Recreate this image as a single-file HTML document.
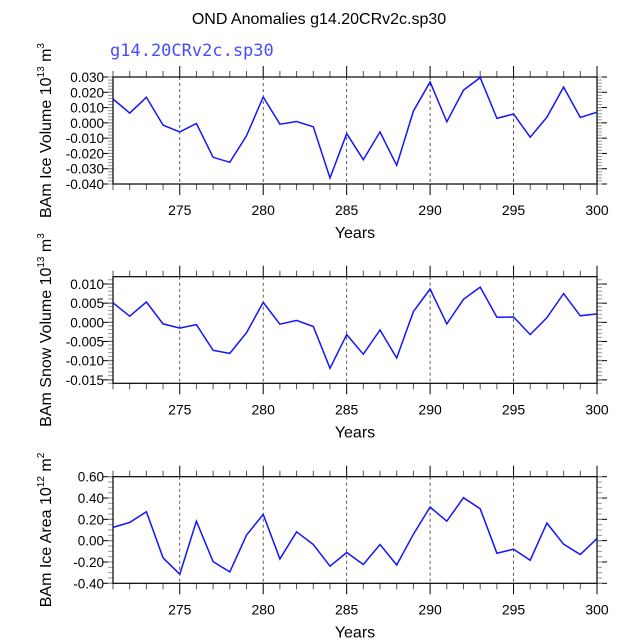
<!DOCTYPE html>
<html><head><meta charset="utf-8"><style>
body{margin:0;background:#fff}
svg text{font-family:"Liberation Sans",sans-serif}
</style></head><body>
<svg id="c" width="638" height="638" viewBox="0 0 638 638" xmlns="http://www.w3.org/2000/svg">
<rect width="638" height="638" fill="#fff"/>
<text x="319" y="24" font-size="16" text-anchor="middle">OND Anomalies g14.20CRv2c.sp30</text>
<text x="110" y="56" font-size="17" fill="#4a4aff" style="font-family:'DejaVu Sans Mono','Liberation Mono',monospace">g14.20CRv2c.sp30</text>
</svg>
<script>
const years = [271,272,273,274,275,276,277,278,279,280,281,282,283,284,285,286,287,288,289,290,291,292,293,294,295,296,297,298,299,300];
const iceVolume = [0.0156,0.0064,0.0167,-0.0015,-0.0059,-0.0004,-0.0225,-0.0258,-0.0085,0.0169,-0.0009,0.0009,-0.0026,-0.0361,-0.0070,-0.0241,-0.0059,-0.0278,0.0077,0.0267,0.0007,0.0214,0.0296,0.0029,0.0058,-0.0094,0.0037,0.0234,0.0035,0.0070];
const snowVolume = [0.0051,0.0016,0.0053,-0.0004,-0.0015,-0.0006,-0.0073,-0.0081,-0.0027,0.0052,-0.0005,0.0005,-0.0011,-0.0120,-0.0032,-0.0083,-0.0020,-0.0093,0.0028,0.0087,-0.0004,0.0060,0.0092,0.0013,0.0014,-0.0032,0.0012,0.0075,0.0017,0.0022];
const iceArea = [0.124,0.171,0.271,-0.162,-0.315,0.183,-0.196,-0.293,0.051,0.246,-0.171,0.083,-0.036,-0.240,-0.111,-0.224,-0.036,-0.228,0.061,0.315,0.183,0.403,0.299,-0.118,-0.080,-0.183,0.165,-0.033,-0.130,0.021];
const xTickLabels = [275,280,285,290,295,300];
const iceVolTicks = ["0.030","0.020","0.010","0.000","-0.010","-0.020","-0.030","-0.040"];
const snowTicks = ["0.010","0.005","0.000","-0.005","-0.010","-0.015"];
const areaTicks = ["0.60","0.40","0.20","0.00","-0.20","-0.40"];

const svg = document.getElementById('c');
const NS = 'http://www.w3.org/2000/svg';
function mk(tag, attrs, parent){const e=document.createElementNS(NS,tag);for(const k in attrs)e.setAttribute(k,attrs[k]);(parent||svg).appendChild(e);return e;}

const X0=113, X1=597;
function xs(v){return X0+(v-271)/(300-271)*(X1-X0);}

function panel(opt){
  const g=mk('g',{});
  
  
  const {top,bot,ymax,ymin}=opt;
  const ys=v=>top+(ymax-v)/(ymax-ymin)*(bot-top);
  xTickLabels.forEach(t=>{ if(t<300){const l=mk('line',{x1:xs(t),x2:xs(t),y1:top,y2:bot,stroke:'#333','stroke-width':0.8,'stroke-dasharray':'3,3'},g);
    
    }});
  for(let yr=271;yr<=300;yr++){
    const major=yr%5===0; const len=major?11:6;
    const c=major?'#000':'#555';
    mk('line',{x1:xs(yr),x2:xs(yr),y1:top,y2:top-len,stroke:c,'stroke-width':1},g);
    mk('line',{x1:xs(yr),x2:xs(yr),y1:bot,y2:bot+len,stroke:c,'stroke-width':1},g);
  }
  xTickLabels.forEach(t=>{const tx=mk('text',{x:xs(t),y:bot+31,'font-size':14,'text-anchor':'middle'},g);tx.textContent=t;
    
    });
  const n=opt.ticks.length;
  for(let i=0;i<n;i++){
    const y=ys(opt.first - i*opt.step);
    mk('line',{x1:X0,x2:X0-10,y1:y,y2:y,stroke:'#000','stroke-width':1},g);
    mk('line',{x1:X1,x2:X1+10,y1:y,y2:y,stroke:'#000','stroke-width':1},g);
    const tx=mk('text',{x:104,y:y+5,'font-size':13.5,'text-anchor':'end'},g);tx.textContent=opt.ticks[i];
    
    
  }
  for(let v=ymin; v<=ymax+1e-9; v+=opt.minor){
    const y=ys(v);
    mk('line',{x1:X0,x2:X0-5,y1:y,y2:y,stroke:'#999','stroke-width':1},g);
    mk('line',{x1:X1,x2:X1+5,y1:y,y2:y,stroke:'#999','stroke-width':1},g);
  }
  mk('rect',{x:X0,y:top,width:X1-X0,height:bot-top,fill:'none',stroke:'#000','stroke-width':1.2},g);
  const pts=opt.data.map((v,i)=>xs(years[i]).toFixed(1)+','+ys(v).toFixed(1)).join(' ');
  const pl=mk('polyline',{points:pts,fill:'none',stroke:'#1414ff','stroke-width':1.5},g);
  
  
  const xt=mk('text',{x:355,y:bot+54,'font-size':16,'text-anchor':'middle'},g);xt.textContent='Years';
  
  
  const cy=(top+bot)/2;
  const yt=mk('text',{x:0,y:0,'font-size':16,'text-anchor':'middle',transform:`translate(51,${cy}) rotate(-90)`},g);
  
  
  yt.innerHTML=opt.ytitle;
}
panel({name:'ice-volume-panel',top:77,bot:184,ymax:0.03,ymin:-0.04,first:0.03,step:0.01,ticks:iceVolTicks,minor:0.002,data:iceVolume,
  ytitle:'BAm Ice Volume 10<tspan font-size="10" dy="-7">13</tspan><tspan dy="7"> m</tspan><tspan font-size="10" dy="-7">3</tspan>'});
panel({name:'snow-volume-panel',top:276.7,bot:383.3,ymax:0.0119,ymin:-0.0159,first:0.010,step:0.005,ticks:snowTicks,minor:0.001,data:snowVolume,
  ytitle:'BAm Snow Volume 10<tspan font-size="10" dy="-7">13</tspan><tspan dy="7"> m</tspan><tspan font-size="10" dy="-7">3</tspan>'});
panel({name:'ice-area-panel',top:476.7,bot:583.3,ymax:0.6,ymin:-0.4,first:0.6,step:0.2,ticks:areaTicks,minor:0.05,data:iceArea,
  ytitle:'BAm Ice Area 10<tspan font-size="10" dy="-7">12</tspan><tspan dy="7"> m</tspan><tspan font-size="10" dy="-7">2</tspan>'});
</script>
</body></html>
